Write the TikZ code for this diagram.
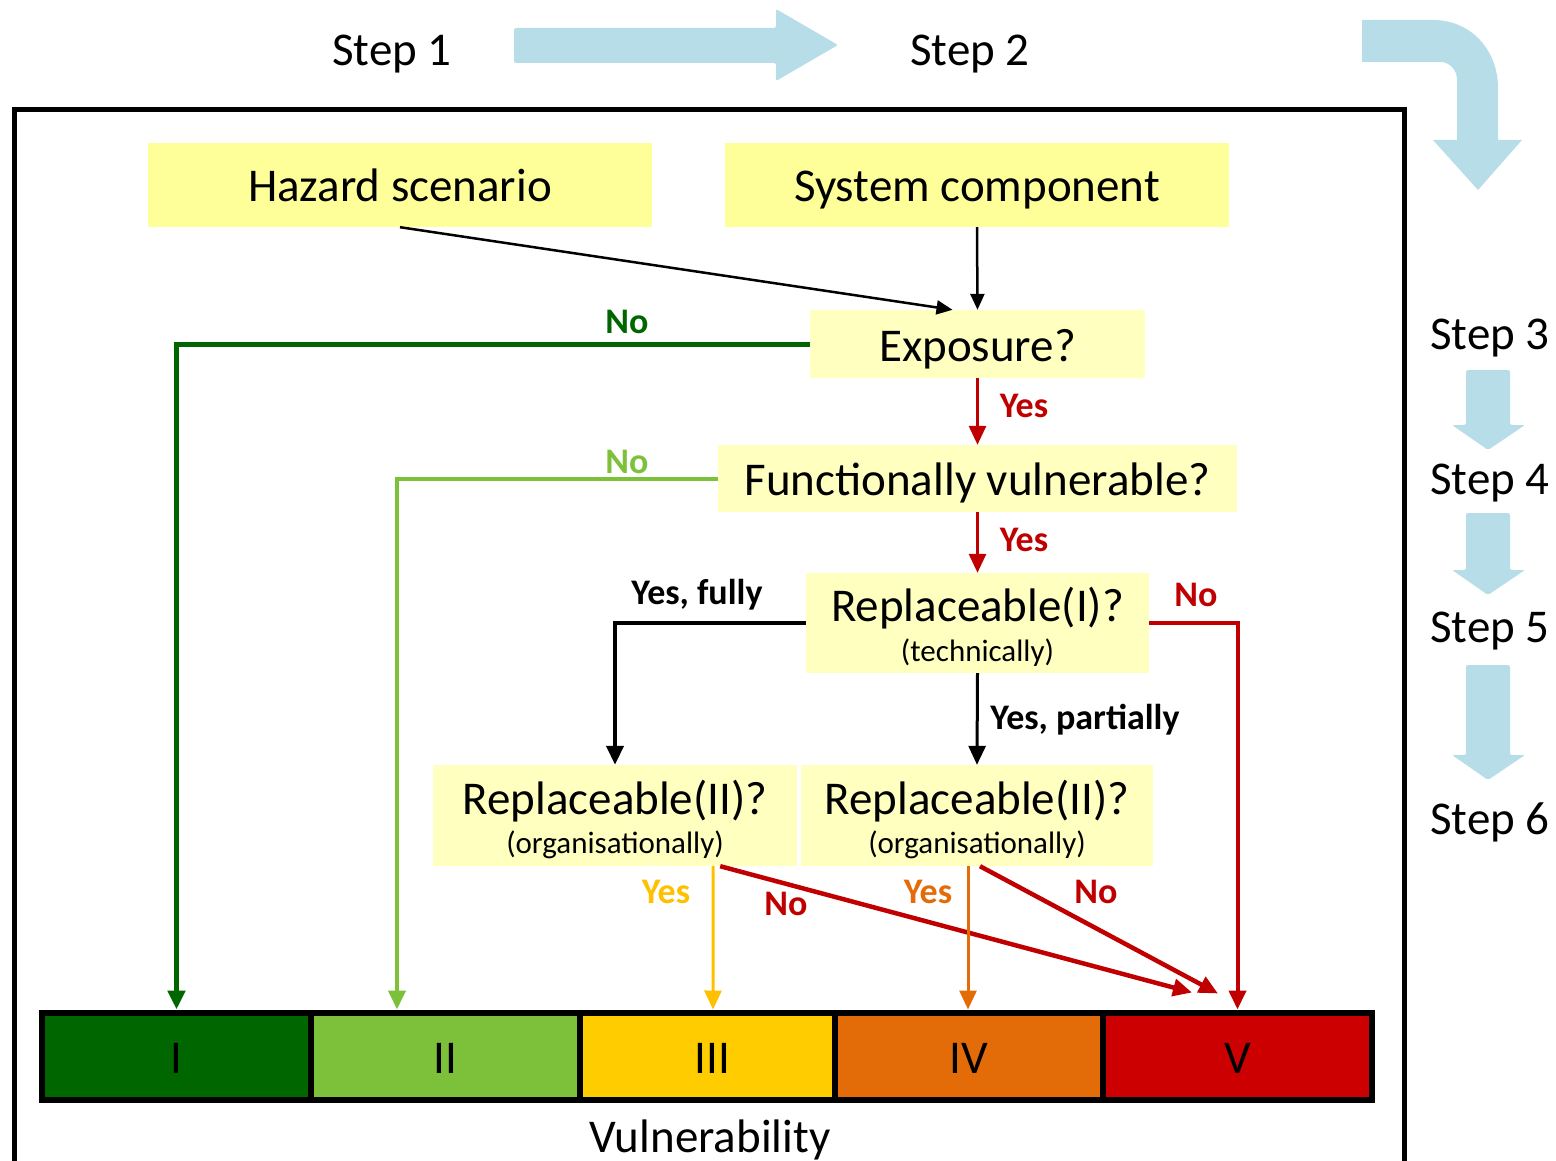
\documentclass[tikz,border=0pt]{standalone}
\usepackage{fontspec}
\setmainfont{Carlito}
\usetikzlibrary{arrows.meta,calc}
\definecolor{skyb}{HTML}{B7DEE8}
\definecolor{ybox}{HTML}{FFFF99}
\definecolor{ypale}{HTML}{FFFFBF}
\definecolor{dgreen}{HTML}{006600}
\definecolor{lgreen}{HTML}{7DC13A}
\definecolor{goldl}{HTML}{FFC000}
\definecolor{barthree}{HTML}{FFCC00}
\definecolor{orng}{HTML}{E36C09}
\definecolor{redl}{HTML}{C00000}
\definecolor{redbar}{HTML}{CC0000}
\newcommand\blueDown[3]{\fill[skyb, rounded corners=2pt] (1466,#1) -- (1510,#1) -- (1510,#2) -- (1525,#2) -- (1488,#3) -- (1452,#2) -- (1466,#2) -- cycle;}
\begin{document}
\begin{tikzpicture}[x=1pt,y=-1pt,
  big/.style={font=\fontsize{47}{56}\selectfont},
  small/.style={font=\fontsize{31}{36}\selectfont},
  txt/.style={inner sep=0pt, anchor=base},
  lbl/.style={font=\fontsize{36}{42}\selectfont\bfseries, inner sep=0pt, anchor=base},
  box/.style={rectangle, inner sep=0pt, big, text height=40pt, text depth=6pt},
  seg/.style={rectangle, draw=black, line width=6pt, minimum height=87pt, inner sep=0pt, big, text height=40pt, text depth=6pt},
  thinarr/.style={line width=2.5pt, -{Triangle[length=16pt,width=14pt]}},
  thickarr/.style={-{Triangle[length=19pt,width=17pt]}}
]
\useasboundingbox (0,0) rectangle (1556,1161);
\clip (0,0) rectangle (1556,1161);

% frame
\draw[line width=5pt] (14,1175) -- (14,110) -- (1404,110) -- (1404,1175);

% step labels and arrows
\node[big, txt] (st1) at (392,66) {Step 1};
\node[big, txt] (st2) at (970,66) {Step 2};
\fill[skyb, rounded corners=2pt] (514,28) -- (776,28) -- (776,9) -- (838,45) -- (776,81) -- (776,63) -- (514,63) -- cycle;
\fill[skyb] (1362,20) -- (1433,20) .. controls (1471,20) and (1498,50) .. (1498,88) -- (1498,140) -- (1522,140) -- (1478,190) -- (1433,140) -- (1457,140) -- (1457,80) .. controls (1457,70) and (1450,62) .. (1440,62) -- (1362,62) -- cycle;
\node[big, txt] (st3) at (1490,349) {Step 3};
\node[big, txt] (st4) at (1490,494) {Step 4};
\node[big, txt] (st5) at (1490,642) {Step 5};
\node[big, txt] (st6) at (1490,834) {Step 6};
\blueDown{370}{425}{450}
\blueDown{513}{570}{595}
\blueDown{665}{755}{780}

% boxes
\node[box, fill=ybox, minimum width=504pt, minimum height=84pt] (haz) at (400,185) {Hazard scenario};
\node[box, fill=ybox, minimum width=504pt, minimum height=84pt] (sys) at (977,185) {System component};
\node[box, fill=ypale, minimum width=335pt, minimum height=68pt] (exp) at (977.5,344) {Exposure?};
\node[box, fill=ypale, minimum width=519pt, minimum height=67pt] (fv) at (977.5,478.5) {Functionally vulnerable?};
\node[rectangle, fill=ypale, minimum width=343pt, minimum height=100pt, inner sep=0pt] (r1) at (977.5,623) {};
\node[big, txt] (r1a) at (977.5,621) {Replaceable(I)?};
\node[small, txt] (r1b) at (977.5,661) {(technically)};
\node[rectangle, fill=ypale, minimum width=364pt, minimum height=101pt, inner sep=0pt] (r2a) at (615,815.5) {};
\node[big, txt] (r2at) at (615,814) {Replaceable(II)?};
\node[small, txt] (r2as) at (615,853) {(organisationally)};
\node[rectangle, fill=ypale, minimum width=352pt, minimum height=101pt, inner sep=0pt] (r2b) at (977,815.5) {};
\node[big, txt] (r2bt) at (977,814) {Replaceable(II)?};
\node[small, txt] (r2bs) at (977,853) {(organisationally)};

% vulnerability bar
\node[seg, fill=dgreen, minimum width=269pt] (s1) at (176.5,1056) {I};
\node[seg, fill=lgreen, minimum width=269pt] (s2) at (445.5,1056) {II};
\node[seg, fill=barthree, minimum width=255pt] (s3) at (707.5,1056) {\hspace{10pt}III};
\node[seg, fill=orng, minimum width=268pt] (s4) at (969,1056) {IV};
\node[seg, fill=redbar, minimum width=269pt] (s5) at (1237.5,1056) {V};
\node[big, txt] (vul) at (710,1152) {Vulnerability};

% connectors
\draw[thinarr] (haz.south) -- ($(exp.north)+(-25,0)$);
\draw[thinarr] (sys.south) -- (exp.north);
\draw[dgreen, line width=5pt, thickarr] (exp.west) -| (s1.north);
\node[lbl, text=dgreen] (no1) at (627,333) {No};
\draw[redl, line width=3pt, thickarr] (exp.south) -- (fv.north);
\node[lbl, text=redl] (y1) at (1024,417) {Yes};
\draw[lgreen, line width=4pt, thickarr] (fv.west) -| ($(s2.north west)+(89,0)$);
\node[lbl, text=lgreen] (no2) at (627,473) {No};
\draw[redl, line width=3pt, thickarr] (fv.south) -- (r1.north);
\node[lbl, text=redl] (y2) at (1024,551) {Yes};
\draw[black, line width=4pt, thickarr] (r1.west) -| (r2a.north);
\node[lbl] (yf) at (697,604) {Yes, fully};
\draw[black, line width=3pt, thickarr] (r1.south) -- (r2b.north);
\node[lbl] (yp) at (1085,729) {Yes, partially};
\draw[redl, line width=4pt, thickarr] (r1.east) -| (s5.north);
\node[lbl, text=redl] (no3) at (1196,606) {No};
\draw[goldl, line width=3pt, thickarr] ($(r2a.south east)+(-84,0)$) -- ($(s3.north)+(5.5,0)$);
\node[lbl, text=goldl] (y3) at (666,903) {Yes};
\draw[redl, line width=4.5pt, thickarr] ($(r2a.south east)+(-77,0)$) -- ($(s5.north)+(-45.5,-17)$);
\node[lbl, text=redl] (no4) at (786,915) {No};
\draw[orng, line width=3pt, thickarr] ($(r2b.south)+(-9,0)$) -- ($(s4.north)+(-1,0)$);
\node[lbl, text=orng] (y4) at (928,903) {Yes};
\draw[redl, line width=4.5pt, thickarr] ($(r2b.south)+(3,0)$) -- ($(s5.north)+(-19.5,-16)$);
\node[lbl, text=redl] (no5) at (1096,903) {No};
\end{tikzpicture}
\end{document}
